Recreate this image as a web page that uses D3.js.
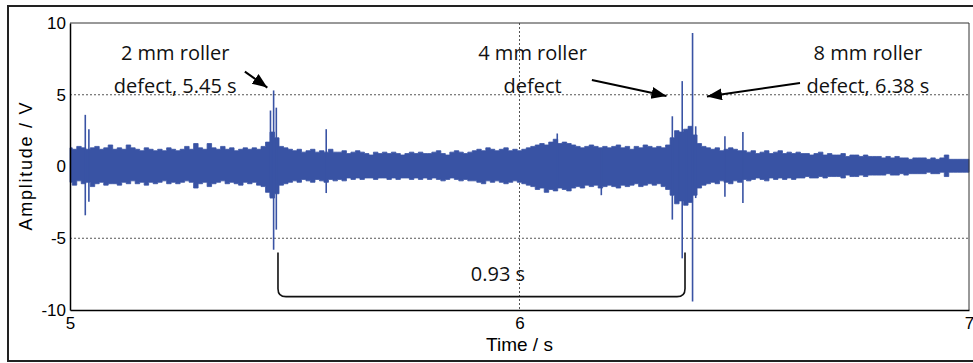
<!DOCTYPE html>
<html><head><meta charset="utf-8">
<script src="https://cdn.jsdelivr.net/npm/d3@7"></script>
<style>body{margin:0;background:#fff}svg{display:block}</style>
</head><body><svg id="c" width="973" height="363"></svg>
<script>
// ---- data ----
const timeStart = 5, timeStep = 0.01;
const upperEnvelope = [
 1.3,1.2,1.4,1.3,1.2,1.3,1.4,1.2,1.3,1.5,
 1.2,1.3,1.2,1.5,1.3,1.2,1.1,1.3,1.2,1.1,
 1.2,1.1,1.3,1.2,1.1,1.2,1.4,1.2,1.6,1.3,
 1.2,1.6,1.3,1.2,1.4,1.2,1.3,1.1,1.2,1.3,
 1.2,1.3,1.2,1.4,1.7,2.4,2.0,1.4,1.3,1.2,
 1.1,1.2,1.0,1.1,1.2,1.0,1.1,1.0,1.2,1.0,
 1.0,1.1,0.9,1.0,1.1,1.0,0.9,0.8,1.0,0.9,
 1.0,0.9,1.0,0.9,0.8,0.9,1.0,0.9,1.0,0.9,
 0.9,1.0,1.1,0.9,0.8,1.0,1.1,1.0,0.9,1.0,
 1.1,1.2,1.1,1.3,1.2,1.1,1.2,1.3,1.1,1.2,
 1.1,1.2,1.3,1.4,1.5,1.6,1.5,1.7,1.9,1.6,
 1.7,1.6,1.5,1.4,1.3,1.4,1.5,1.4,1.3,1.4,
 1.3,1.4,1.5,1.3,1.4,1.2,1.4,1.3,1.5,1.4,
 1.3,1.4,1.3,1.5,2.0,2.5,2.4,2.6,2.8,2.2,
 1.6,1.4,1.3,1.2,1.3,1.1,1.2,1.3,1.2,1.1,
 1.1,1.0,1.1,0.9,1.0,1.1,0.9,1.0,1.1,0.9,
 1.0,0.9,1.0,0.9,0.9,0.8,0.9,1.0,0.8,0.9,
 0.8,0.8,0.9,0.7,0.8,0.8,0.7,0.8,0.7,0.7,
 0.7,0.6,0.7,0.6,0.7,0.6,0.6,0.5,0.6,0.6,
 0.6,0.5,0.6,0.5,0.6,0.8,0.5,0.5,0.5,0.5,
 0.5];
const lowerEnvelope = [
 -1.1,-1.3,-1.0,-1.2,-1.1,-1.4,-1.2,-1.1,-1.3,-1.2,
 -1.2,-1.3,-1.1,-1.2,-1.0,-1.2,-1.1,-1.3,-1.1,-1.2,
 -1.1,-1.0,-1.2,-1.1,-1.2,-1.1,-1.0,-1.1,-1.5,-1.2,
 -1.1,-1.4,-1.2,-1.1,-1.0,-1.2,-1.1,-1.2,-1.3,-1.1,
 -1.2,-1.1,-1.3,-1.4,-1.8,-2.2,-1.9,-1.3,-1.2,-1.1,
 -1.0,-1.1,-0.9,-1.0,-1.1,-0.9,-1.0,-1.1,-0.9,-1.0,
 -0.9,-1.0,-0.8,-0.9,-0.8,-0.9,-0.8,-0.8,-0.9,-0.8,
 -0.8,-0.9,-0.8,-0.9,-0.8,-0.8,-0.9,-0.8,-0.9,-0.8,
 -0.9,-0.8,-0.9,-1.0,-0.9,-0.8,-0.9,-1.0,-0.9,-1.0,
 -1.0,-1.1,-1.2,-1.0,-1.1,-1.0,-1.1,-1.2,-1.1,-1.0,
 -1.1,-1.2,-1.3,-1.4,-1.6,-1.5,-1.8,-1.6,-1.7,-1.5,
 -1.6,-1.7,-1.5,-1.4,-1.5,-1.3,-1.4,-1.3,-1.5,-1.4,
 -1.3,-1.4,-1.5,-1.3,-1.4,-1.3,-1.2,-1.4,-1.3,-1.2,
 -1.3,-1.2,-1.4,-1.6,-2.0,-2.6,-2.4,-2.7,-2.5,-2.0,
 -1.5,-1.3,-1.2,-1.1,-1.2,-1.0,-1.1,-1.2,-1.0,-1.1,
 -0.9,-1.0,-0.9,-0.8,-0.9,-1.0,-0.8,-0.9,-0.8,-0.9,
 -0.8,-0.9,-0.8,-0.8,-0.7,-0.8,-0.8,-0.7,-0.8,-0.7,
 -0.7,-0.7,-0.8,-0.6,-0.7,-0.7,-0.6,-0.7,-0.6,-0.6,
 -0.6,-0.6,-0.5,-0.6,-0.6,-0.5,-0.6,-0.5,-0.5,-0.5,
 -0.5,-0.4,-0.5,-0.5,-0.4,-0.7,-0.4,-0.4,-0.4,-0.4,
 -0.4];
// isolated impulses: [time s, max V, min V]
const spikeTimes = [5.034,5.042,5.446,5.453,5.459,5.570,6.084,6.182,6.340,6.355,6.362,6.372,6.385,6.392,6.457,6.497];
const spikeMax   = [3.6, 2.6, 3.9, 5.3, 4.1, 2.6, 2.3, 1.3, 3.5, 2.4, 5.95, 2.6, 9.3, 2.8, 2.1, 2.4];
const spikeMin   = [-3.4,-2.45,-2.1,-5.8,-4.4,-1.85,-1.3,-2.0,-3.7,-2.3,-6.4,-2.6,-9.4,-2.2,-2.1,-2.55];
const xTicks = [5, 6, 7];
const yTicks = [-10, -5, 0, 5, 10];
const gridXValues = [6];
const gridYValues = [-5, 5];
const xLabel = "Time / s", yLabel = "Amplitude / V";
const notes = [
  {t:5.234, v:7.42, lines:["2 mm roller","defect, 5.45 s"]},
  {t:6.029, v:7.42, lines:["4 mm roller","defect"]},
  {t:6.775, v:7.42, lines:["8 mm roller","defect, 6.38 s"]}
];
const arrows = [
  {t0:5.389, v0:6.61, t1:5.439, v1:5.50},
  {t0:6.161, v0:6.03, t1:6.327, v1:4.91},
  {t0:6.624, v0:5.82, t1:6.417, v1:4.88}
];
const bracket = {tStart:5.4627, tEnd:6.3682, vTop:-6.0, vBottom:-9.07, label:"0.93 s", tLabel:5.952, vLabel:-7.96};

// ---- drawing ----
const svg = d3.select("#c");
const L = 70, R = 969, T = 23, B = 310;
const x = d3.scaleLinear().domain([5, 7]).range([L, R]);
const y = d3.scaleLinear().domain([-10, 10]).range([B, T]);
const blue = "#3953a4";

// outer frame
svg.append("rect").attr("x",8).attr("y",6).attr("width",980).attr("height",355)
  .attr("fill","none").attr("stroke","#222").attr("stroke-width",2);

// grid
const g = svg.append("g");
g.selectAll(".gy").data(gridYValues).join("line")
  .attr("x1",L).attr("x2",R).attr("y1",d=>y(d)).attr("y2",d=>y(d))
  .attr("stroke","#555").attr("stroke-dasharray","2,2").attr("stroke-width",1);
g.selectAll(".gx").data(gridXValues).join("line")
  .attr("y1",T).attr("y2",B).attr("x1",d=>x(d)).attr("x2",d=>x(d))
  .attr("stroke","#555").attr("stroke-dasharray","2,2").attr("stroke-width",1);

// signal envelope
const env = upperEnvelope.map((u,i)=>({t: timeStart + i*timeStep, hi:u, lo:lowerEnvelope[i]}));
const area = d3.area().x(d=>x(d.t)).y0(d=>y(d.lo)).y1(d=>y(d.hi)).curve(d3.curveStep);
svg.append("path").datum(env).attr("d",area).attr("fill",blue).attr("stroke",blue).attr("stroke-width",0.8);

const spikes = spikeTimes.map((t,i)=>({t, hi:spikeMax[i], lo:spikeMin[i]}));
svg.selectAll(".sp").data(spikes).join("line")
  .attr("x1",d=>x(d.t)).attr("x2",d=>x(d.t)).attr("y1",d=>y(d.hi)).attr("y2",d=>y(d.lo))
  .attr("stroke",blue).attr("stroke-width",1.6);

// box: top & right
svg.append("line").attr("x1",L).attr("x2",R).attr("y1",T).attr("y2",T).attr("stroke","#333").attr("stroke-width",1);
svg.append("line").attr("x1",R).attr("x2",R).attr("y1",T).attr("y2",B).attr("stroke","#333").attr("stroke-width",1);

// axes
const fontAx = "'Liberation Sans', Arial, sans-serif";
const xAxis = svg.append("g").attr("transform",`translate(0,${B})`)
  .call(d3.axisBottom(x).tickValues(xTicks).tickSize(0).tickPadding(7).tickFormat(d3.format("d")));
const yAxis = svg.append("g").attr("transform",`translate(${L},0)`)
  .call(d3.axisLeft(y).tickValues(yTicks).tickSize(0).tickPadding(4).tickFormat(d=>d<0?"-"+Math.abs(d):d));
[xAxis,yAxis].forEach(a=>{
  a.select(".domain").attr("stroke","#000").attr("stroke-width",1.5);
  a.selectAll("text").attr("font-family",fontAx).attr("font-size",17).attr("fill","#000");
});
svg.append("text").attr("x",x(6)).attr("y",351).attr("text-anchor","middle")
  .attr("font-family",fontAx).attr("font-size",19).text(xLabel);
svg.append("text").attr("transform",`translate(32,${y(0)}) rotate(-90)`).attr("text-anchor","middle")
  .attr("font-family",fontAx).attr("font-size",18).attr("textLength",128).attr("lengthAdjust","spacing").text(yLabel);

// annotations
const fontN = "'Open Sans', sans-serif";
notes.forEach(n=>{
  const tx = svg.append("text").attr("font-family",fontN).attr("font-size",20).attr("text-anchor","middle").attr("fill","#111");
  n.lines.forEach((s,i)=>tx.append("tspan").attr("x",x(n.t)).attr("y",y(n.v)+i*33).text(s));
});
svg.append("defs").append("marker").attr("id","ah").attr("markerUnits","userSpaceOnUse")
  .attr("markerWidth",16).attr("markerHeight",14).attr("refX",15).attr("refY",6)
  .attr("orient","auto").append("path").attr("d","M0,0 L15,6 L0,12 Z").attr("fill","#000");
svg.selectAll(".ar").data(arrows).join("line")
  .attr("x1",d=>x(d.t0)).attr("y1",d=>y(d.v0)).attr("x2",d=>x(d.t1)).attr("y2",d=>y(d.v1))
  .attr("stroke","#000").attr("stroke-width",2).attr("marker-end","url(#ah)");

const bx0 = x(bracket.tStart), bx1 = x(bracket.tEnd), by0 = y(bracket.vTop), by1 = y(bracket.vBottom), r = 8;
svg.append("path").attr("d",`M${bx0},${by0} L${bx0},${by1-r} Q${bx0},${by1} ${bx0+r},${by1} L${bx1-r},${by1} Q${bx1},${by1} ${bx1},${by1-r} L${bx1},${by0}`)
  .attr("fill","none").attr("stroke","#111").attr("stroke-width",1.6);
svg.append("text").attr("x",x(bracket.tLabel)).attr("y",y(bracket.vLabel)).attr("text-anchor","middle")
  .attr("font-family",fontN).attr("font-size",20).attr("fill","#111").text(bracket.label);
</script></body></html>
